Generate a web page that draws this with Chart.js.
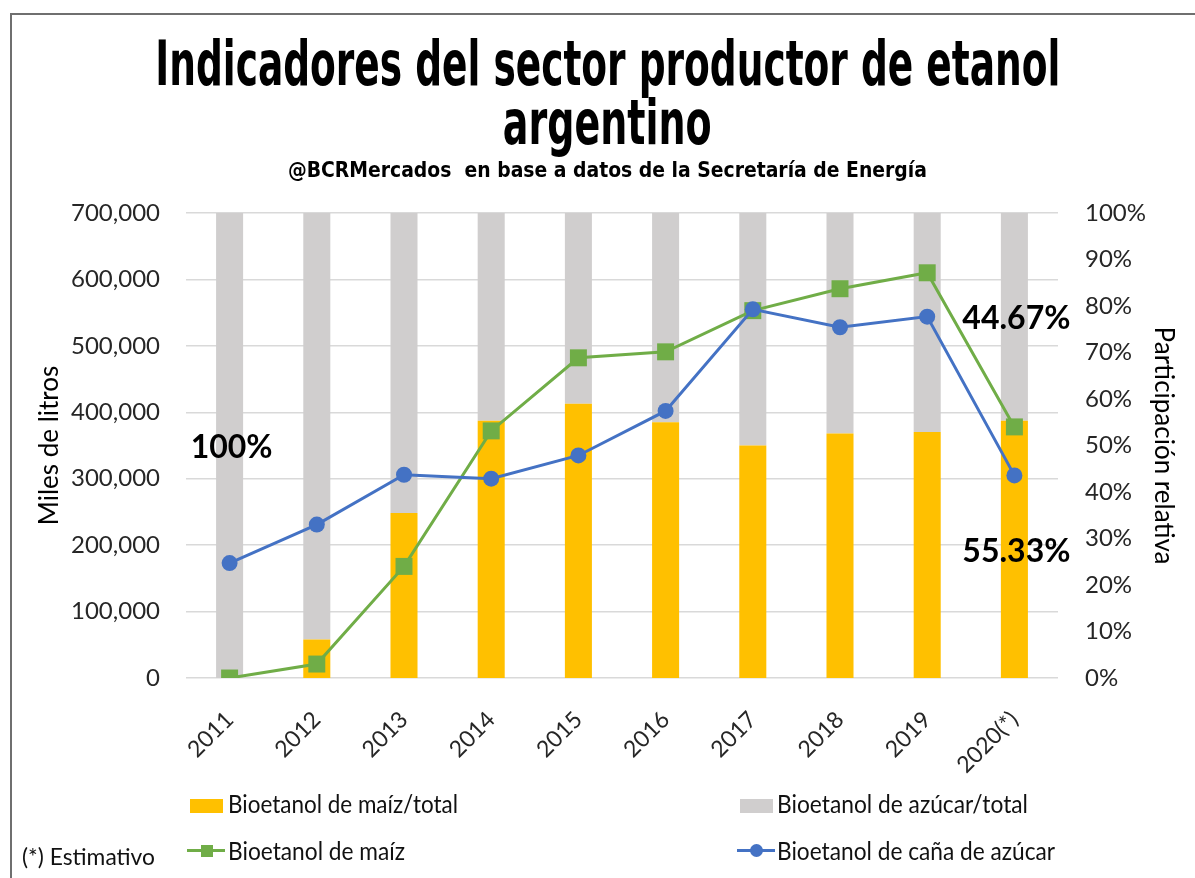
<!DOCTYPE html>
<html>
<head>
<meta charset="utf-8">
<script src="https://cdn.jsdelivr.net/npm/chart.js@4.4.1/dist/chart.umd.min.js"></script>
<style>
  body { margin: 0; background: #fff; }
  #wrap { position: relative; width: 1195px; height: 878px; overflow: hidden; background: #fff; }
  #frame { position: absolute; left: 10px; top: 13px; width: 1300px; height: 1000px;
           border-left: 2px solid #6f6f6f; border-top: 2px solid #6f6f6f; }
  canvas { position: absolute; left: 0; top: 0; }
  .ttl { position: absolute; left: 10px; width: 1195px; display: flex; justify-content: center; white-space: nowrap;
         font-family: "Liberation Sans Narrow", "DejaVu Sans Condensed", sans-serif; font-weight: bold; color: #000; }
  .ttl span { display: inline-block; flex: none; transform-origin: 50% 50%; }
  .leg { position: absolute; font-family: Lato, "Open Sans", sans-serif; font-size: 25px; line-height: 30px;
         color: #111; white-space: nowrap; transform-origin: 0 50%; }
  .sw { position: absolute; }
</style>
</head>
<body>
<div id="wrap">
  <div id="frame"></div>
  <canvas id="chart" width="1195" height="878"></canvas>
  <div class="ttl" style="top:29px;font-size:62px;line-height:70px"><span data-w="905">Indicadores del sector productor de etanol</span></div>
  <div class="ttl" style="top:88px;font-size:62px;line-height:70px"><span data-w="209">argentino</span></div>
  <div class="ttl" style="top:156px;font-size:22px;line-height:28px"><span data-w="639">@BCRMercados&nbsp; en base a datos de la Secretaría de Energía</span></div>

  <!-- leyenda -->
  <div class="sw" style="left:190px;top:799px;width:33px;height:14px;background:#FFC000"></div>
  <div class="leg" data-w="230" style="left:228px;top:788px">Bioetanol de maíz/total</div>
  <div class="sw" style="left:740px;top:799px;width:33px;height:14px;background:#D0CECE"></div>
  <div class="leg" data-w="251" style="left:777px;top:788px">Bioetanol de azúcar/total</div>

  <div class="sw" style="left:187px;top:849px;width:38px;height:3px;background:#70AD47"></div>
  <div class="sw" style="left:201px;top:845px;width:12px;height:12px;background:#70AD47"></div>
  <div class="leg" data-w="177" style="left:228px;top:835px">Bioetanol de maíz</div>
  <div class="sw" style="left:737px;top:849px;width:38px;height:3px;background:#4472C4"></div>
  <div class="sw" style="left:750px;top:844px;width:13px;height:13px;border-radius:50%;background:#4472C4"></div>
  <div class="leg" data-w="278" style="left:777px;top:835px">Bioetanol de caña de azúcar</div>

  <div class="leg" data-w="133" style="left:22px;top:841px;font-size:23px">(*) Estimativo</div>
</div>

<script>
// datos
const years = ['2011', '2012', '2013', '2014', '2015', '2016', '2017', '2018', '2019', '2020(*)'];
// participación relativa (%)
const maizShare = [0, 8.3, 35.5, 55.3, 59.0, 55.0, 50.0, 52.6, 52.9, 55.33];
const azucarShare = [100, 91.7, 64.5, 44.7, 41.0, 45.0, 50.0, 47.4, 47.1, 44.67];
// miles de litros
const maizLitros = [0, 21000, 168000, 372000, 482000, 491000, 553000, 586000, 610000, 378000];
const canaLitros = [173000, 231000, 306000, 300000, 335000, 402000, 555000, 528000, 544000, 305000];
// etiquetas de datos visibles: [dataset, índice]
const labeledBars = [[1, 0], [1, 9], [0, 9]];

const fontFam = 'Lato, "Open Sans", sans-serif';
const tickColor = '#262626';

// ajustar textos al ancho del original
document.querySelectorAll('.ttl span').forEach(s => {
    const w = s.getBoundingClientRect().width;
    s.style.transform = 'scaleX(' + (Number(s.dataset.w) / w) + ')';
});
document.querySelectorAll('.leg').forEach(s => {
    const w = s.getBoundingClientRect().width;
    s.style.transform = 'scaleX(' + (Number(s.dataset.w) / w) + ')';
});

// etiquetas dentro de las barras
const barLabels = {
    id: 'barLabels',
    afterDatasetsDraw(chart) {
        const ctx = chart.ctx;
        ctx.save();
        ctx.font = 'bold 32px ' + fontFam;
        ctx.fillStyle = '#000';
        ctx.textAlign = 'center';
        ctx.textBaseline = 'middle';
        labeledBars.forEach(([d, i]) => {
            const el = chart.getDatasetMeta(d).data[i];
            const v = chart.data.datasets[d].data[i];
            const txt = v === 100 ? '100%' : v.toFixed(2) + '%';
            ctx.fillText(txt, el.x + 2, (el.y + el.base) / 2 + 2);
        });
        ctx.restore();
    }
};

new Chart(document.getElementById('chart'), {
    data: {
        labels: years,
        datasets: [
            { type: 'bar', label: 'Bioetanol de maíz/total', data: maizShare, yAxisID: 'y2',
              backgroundColor: '#FFC000', stack: 'share', order: 2,
              barPercentage: 0.31, categoryPercentage: 1 },
            { type: 'bar', label: 'Bioetanol de azúcar/total', data: azucarShare, yAxisID: 'y2',
              backgroundColor: '#D0CECE', stack: 'share', order: 2,
              barPercentage: 0.31, categoryPercentage: 1 },
            { type: 'line', label: 'Bioetanol de maíz', data: maizLitros, yAxisID: 'y',
              borderColor: '#70AD47', backgroundColor: '#70AD47', borderWidth: 3,
              pointStyle: 'rect', pointRadius: 12, pointBorderWidth: 0, order: 1 },
            { type: 'line', label: 'Bioetanol de caña de azúcar', data: canaLitros, yAxisID: 'y',
              borderColor: '#4472C4', backgroundColor: '#4472C4', borderWidth: 3,
              pointStyle: 'circle', pointRadius: 8, pointBorderWidth: 0, order: 0 }
        ]
    },
    options: {
        responsive: false,
        animation: false,
        layout: { padding: { left: 10, right: 10, top: 213, bottom: 0 } },
        plugins: { legend: { display: false }, tooltip: { enabled: false } },
        scales: {
            x: {
                stacked: true,
                grid: { display: false },
                border: { display: false },
                ticks: { font: { family: fontFam, size: 23 }, color: tickColor, maxRotation: 45, minRotation: 45, padding: 20 },
                afterFit(s) { s.height = 200; }
            },
            y: {
                position: 'left',
                min: 0, max: 700000,
                grid: { color: '#d9d9d9', lineWidth: 1.5, drawTicks: false },
                border: { display: false },
                ticks: { stepSize: 100000, font: { family: fontFam, size: 24 }, color: tickColor, padding: 26,
                         callback: v => v.toLocaleString('en-US') },
                title: { display: true, text: 'Miles de litros', color: '#000',
                         font: { family: fontFam, size: 26 }, padding: { top: 24 } },
                afterFit(s) { s.width = 176; }
            },
            y2: {
                position: 'right',
                stacked: true,
                min: 0, max: 100,
                grid: { display: false, drawTicks: false },
                border: { display: false },
                ticks: { stepSize: 10, font: { family: fontFam, size: 24 }, color: tickColor, padding: 27,
                         callback: v => v + '%' },
                title: { display: true, text: 'Participación relativa', color: '#000',
                         font: { family: fontFam, size: 26 }, padding: { top: 6 } },
                afterFit(s) { s.width = 127; }
            }
        }
    },
    plugins: [barLabels]
});
</script>
</body>
</html>
